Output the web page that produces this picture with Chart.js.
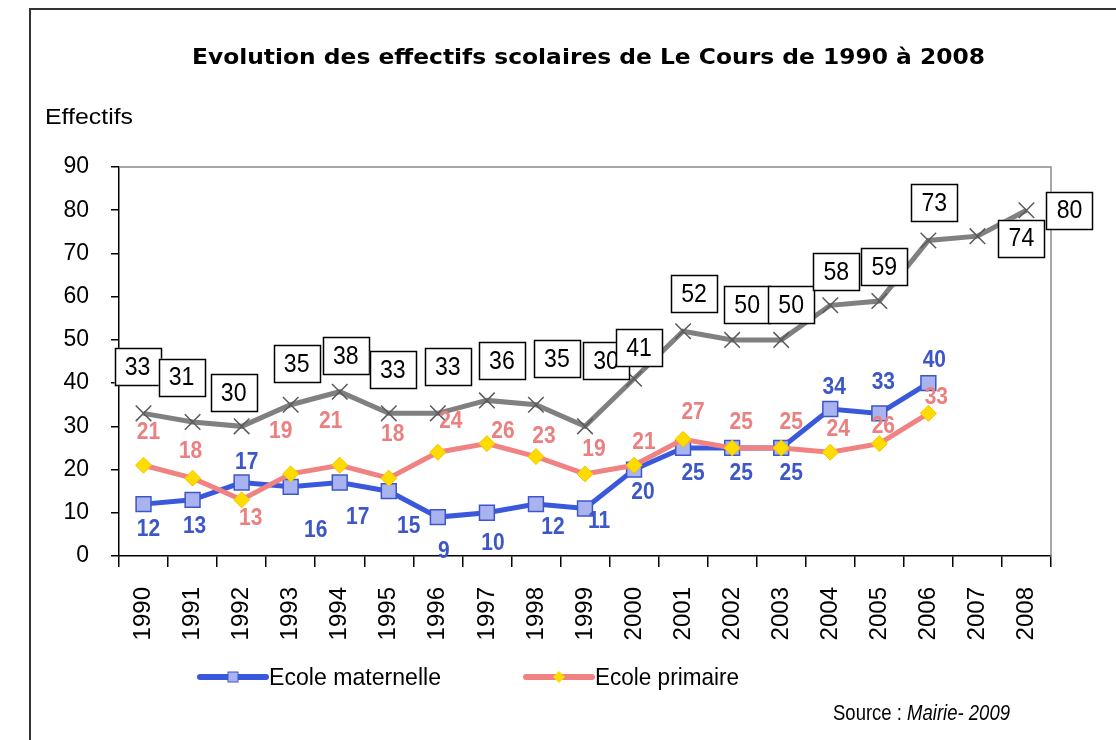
<!DOCTYPE html>
<html>
<head>
<meta charset="utf-8">
<script src="https://cdn.jsdelivr.net/npm/chart.js@4.4.1/dist/chart.umd.min.js"></script>
<style>
  html, body { margin: 0; padding: 0; background: #fff; }
  canvas { display: block; }
</style>
</head>
<body>
<canvas id="myChart" width="1116" height="740"></canvas>
<script>
// data
const years = ['1990', '1991', '1992', '1993', '1994', '1995', '1996', '1997', '1998', '1999',
    '2000', '2001', '2002', '2003', '2004', '2005', '2006', '2007', '2008'];
const maternelle = [12, 13, 17, 16, 17, 15, 9, 10, 12, 11, 20, 25, 25, 25, 34, 33, 40, null, null];
const primaire = [21, 18, 13, 19, 21, 18, 24, 26, 23, 19, 21, 27, 25, 25, 24, 26, 33, null, null];
const total = [33, 31, 30, 35, 38, 33, 33, 36, 35, 30, 41, 52, 50, 50, 58, 59, 73, 74, 80];
const yTicks = [0, 10, 20, 30, 40, 50, 60, 70, 80, 90];

// where each value label sits, relative to its point (dx, dy in px)
const matLabelPos = [[5, 25], [2, 27], [5, -20], [25, 43], [18, 35], [20, 35], [6, 34], [6, 31], [17, 23],
    [14, 13], [9, 23], [10, 25], [9, 25], [10, 25], [4, -22], [4, -31], [6, -23]];
const primLabelPos = [[5, -33], [-2, -27], [9, 19], [-10, -43], [-9, -44], [4, -44], [13, -31], [16, -12],
    [8, -20], [9, -25], [10, -23], [10, -27], [9, -26], [10, -26], [8, -23], [4, -17], [8, -16]];
const totalLabelPos = [[-6, -47], [-11, -45], [-8, -34], [6, -41], [6, -36], [4, -44], [10, -47], [15, -40],
    [21, -46], [21, -66], [5, -31], [11, -38], [15, -35], [10, -35], [6, -34], [5, -34], [6, -38], [44, 2], [43, 0]];

const BLUE = '#3a58dc';
const PINK = '#f08282';
const SANS = '"Liberation Sans", Arial, sans-serif';

// the original text is a little taller than wide, stretch it
function stretchText(ctx, text, x, y, sx, sy) {
    ctx.save();
    ctx.translate(x, y);
    ctx.scale(sx, sy);
    ctx.fillText(text, 0, 0);
    ctx.restore();
}

function drawLabels(chart) {
    const ctx = chart.ctx;
    ctx.save();
    ctx.textAlign = 'center';
    ctx.textBaseline = 'middle';

    // maternelle + primaire : coloured bold numbers
    const plain = [
        { idx: 0, pos: matLabelPos, color: '#3d57c8' },
        { idx: 1, pos: primLabelPos, color: '#ea8080' }
    ];
    plain.forEach(function(p) {
        const meta = chart.getDatasetMeta(p.idx);
        const vals = chart.data.datasets[p.idx].data;
        ctx.font = 'bold 21px ' + SANS;
        ctx.fillStyle = p.color;
        meta.data.forEach(function(pt, i) {
            if (vals[i] === null) return;
            const off = p.pos[i] || [0, -20];
            stretchText(ctx, String(vals[i]), pt.x + off[0], pt.y + off[1], 1, 1.15);
        });
    });

    // total : boxed labels
    const meta = chart.getDatasetMeta(2);
    const vals = chart.data.datasets[2].data;
    ctx.font = '22px ' + SANS;
    ctx.lineWidth = 1.5;
    meta.data.forEach(function(pt, i) {
        const off = totalLabelPos[i];
        const cx = pt.x + off[0], cy = pt.y + off[1];
        const w = 46, h = 37;
        ctx.fillStyle = '#fff';
        ctx.fillRect(cx - w / 2, cy - h / 2, w, h);
        ctx.strokeStyle = '#000';
        ctx.strokeRect(Math.round(cx - w / 2) + 0.5, Math.round(cy - h / 2) + 0.5, w, h);
        ctx.fillStyle = '#000';
        stretchText(ctx, String(vals[i]), cx, cy + 1, 1.05, 1.2);
    });
    ctx.restore();
}

const decor = {
    id: 'decor',
    beforeDraw(chart) {
        const ctx = chart.ctx;
        ctx.save();
        ctx.fillStyle = '#fff';
        ctx.fillRect(0, 0, chart.width, chart.height);
        // outer frame
        ctx.strokeStyle = '#333';
        ctx.lineWidth = 2;
        ctx.strokeRect(30, 9, 1200, 800);
        ctx.restore();
    },
    beforeDatasetsDraw(chart) {
        const a = chart.chartArea;
        const ctx = chart.ctx;
        ctx.save();
        ctx.strokeStyle = '#8a8a8a';
        ctx.lineWidth = 1.5;
        ctx.beginPath();
        ctx.moveTo(a.left, a.top);
        ctx.lineTo(a.right, a.top);
        ctx.lineTo(a.right, a.bottom);
        ctx.stroke();
        ctx.restore();
    },
    afterDatasetsDraw(chart) {
        drawLabels(chart);
    },
    afterDraw(chart) {
        const ctx = chart.ctx;
        ctx.save();
        ctx.fillStyle = '#000';
        ctx.textBaseline = 'alphabetic';
        ctx.textAlign = 'left';

        // title, stretched to the reference width
        const title = 'Evolution des effectifs scolaires de Le Cours de 1990 à 2008';
        ctx.font = 'bold 21px "DejaVu Sans", Verdana, sans-serif';
        const tw = ctx.measureText(title).width;
        stretchText(ctx, title, 192, 64, 793 / tw, 1);

        // y axis caption
        ctx.font = '21px ' + SANS;
        const ew = ctx.measureText('Effectifs').width;
        stretchText(ctx, 'Effectifs', 45, 124, 88 / ew, 1.05);

        // legend
        const legendItems = [
            { x: 200, label: 'Ecole maternelle', line: BLUE, style: 'square' },
            { x: 526, label: 'Ecole primaire', line: PINK, style: 'diamond' }
        ];
        const ly = 677;
        legendItems.forEach(function(it) {
            ctx.strokeStyle = it.line;
            ctx.lineWidth = 6;
            ctx.lineCap = 'round';
            ctx.beginPath();
            ctx.moveTo(it.x, ly);
            ctx.lineTo(it.x + 66, ly);
            ctx.stroke();
            const mx = it.x + 33;
            if (it.style === 'square') {
                ctx.fillStyle = '#a9b3f0';
                ctx.fillRect(mx - 5, ly - 5, 10, 10);
                ctx.strokeStyle = '#3d57c8';
                ctx.lineWidth = 1;
                ctx.strokeRect(mx - 5, ly - 5, 10, 10);
            } else {
                ctx.fillStyle = '#ffdc00';
                ctx.beginPath();
                ctx.moveTo(mx, ly - 6);
                ctx.lineTo(mx + 6, ly);
                ctx.lineTo(mx, ly + 6);
                ctx.lineTo(mx - 6, ly);
                ctx.closePath();
                ctx.fill();
            }
            ctx.fillStyle = '#000';
            ctx.font = '22px ' + SANS;
            const lw = ctx.measureText(it.label).width;
            const target = it.style === 'square' ? 172 : 144;
            stretchText(ctx, it.label, it.x + 69, ly + 8, target / lw, 1.1);
        });

        // source
        const s1 = 'Source : ';
        const s2 = 'Mairie- 2009';
        ctx.font = 'italic 20px ' + SANS;
        const w2 = ctx.measureText(s2).width;
        ctx.font = '20px ' + SANS;
        const w1 = ctx.measureText(s1).width;
        const k = 177 / (w1 + w2);
        const sx = 1010 - (w1 + w2) * k;
        stretchText(ctx, s1, sx, 720, k, 1.1);
        ctx.font = 'italic 20px ' + SANS;
        stretchText(ctx, s2, sx + w1 * k, 720, k, 1.1);
        ctx.restore();
    }
};

const data = {
    labels: years,
    datasets: [{
            label: 'Ecole maternelle',
            data: maternelle,
            borderColor: BLUE,
            borderWidth: 5,
            pointStyle: 'rect',
            pointRadius: 10.5,
            pointBackgroundColor: '#a9b3f0',
            pointBorderColor: '#3d57c8',
            pointBorderWidth: 1.5,
            order: 2
        },
        {
            label: 'Ecole primaire',
            data: primaire,
            borderColor: PINK,
            borderWidth: 5,
            pointStyle: 'rectRot',
            pointRadius: 8,
            pointBackgroundColor: '#ffdc00',
            pointBorderColor: '#f5c400',
            pointBorderWidth: 1,
            order: 1
        },
        {
            label: 'Total',
            data: total,
            borderColor: '#808080',
            borderWidth: 5,
            pointStyle: 'crossRot',
            pointRadius: 11,
            pointBorderColor: '#5a5a5a',
            pointBorderWidth: 1.5,
            order: 3
        }
    ]
};

const config = {
    type: 'line',
    data,
    options: {
        responsive: false,
        animation: false,
        devicePixelRatio: 1,
        layout: {
            padding: { left: 0, right: 65, top: 167, bottom: 84 }
        },
        elements: {
            line: { tension: 0 }
        },
        plugins: {
            legend: { display: false },
            title: { display: false },
            tooltip: { enabled: false }
        },
        scales: {
            x: {
                offset: true,
                grid: {
                    offset: true,
                    drawOnChartArea: false,
                    tickLength: 11,
                    color: '#000',
                    lineWidth: 1.5
                },
                border: { color: '#000', width: 1.5 },
                ticks: {
                    autoSkip: false,
                    minRotation: 90,
                    maxRotation: 90,
                    padding: 20,
                    color: '#000',
                    font: { family: SANS, size: 24 }
                },
                afterFit(scale) { scale.height = 100; }
            },
            y: {
                min: 0,
                max: 90,
                afterBuildTicks(scale) {
                    scale.ticks = yTicks.map(function(v) { return { value: v }; });
                },
                grid: {
                    drawOnChartArea: false,
                    tickLength: 8,
                    color: '#000',
                    lineWidth: 1.5
                },
                border: { color: '#000', width: 1.5 },
                ticks: {
                    padding: 22,
                    color: '#000',
                    font: { family: SANS, size: 23 }
                },
                afterFit(scale) { scale.width = 119; }
            }
        }
    },
    plugins: [decor]
};

var myChart = new Chart(
    document.getElementById('myChart'),
    config
);
</script>
</body>
</html>
